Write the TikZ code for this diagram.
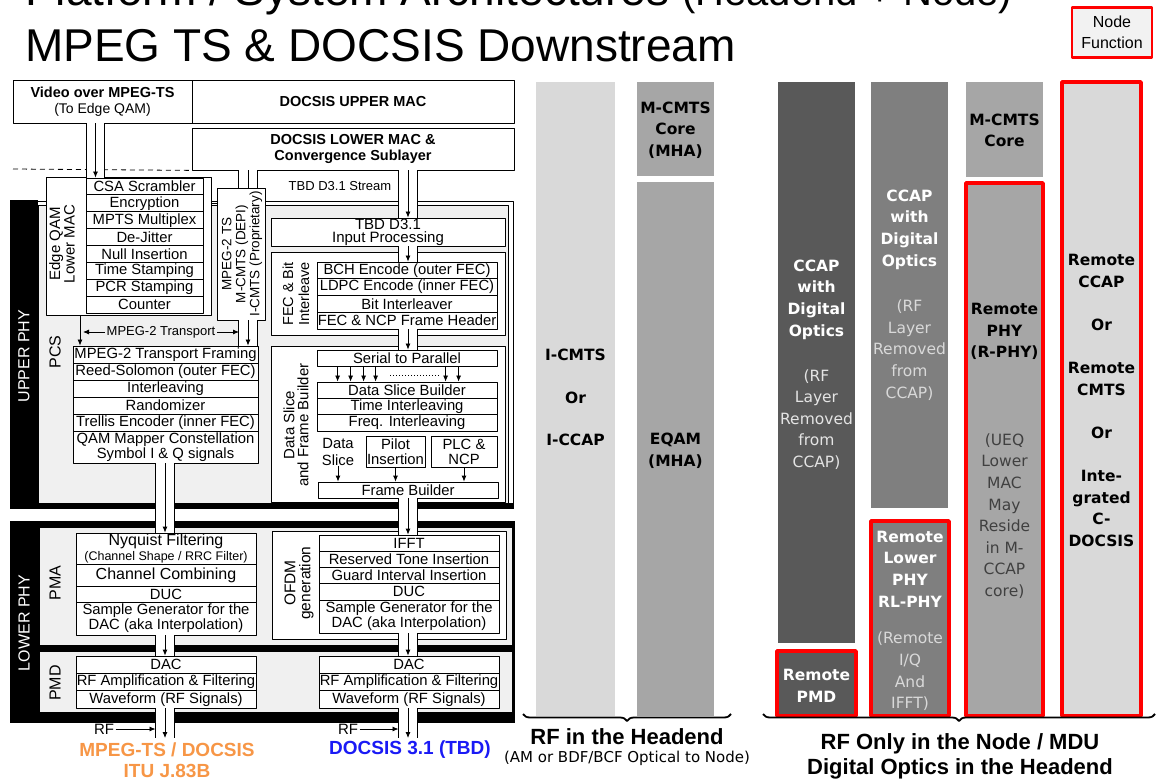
\documentclass[tikz,border=0pt]{standalone}
\usepackage{fontspec}
\setmainfont{Liberation Sans}
\newfontfamily\panelfont{DejaVu Sans}
\usetikzlibrary{arrows.meta,calc,decorations.pathreplacing}

\definecolor{phygray}{rgb}{0.94,0.94,0.94}
\definecolor{boxgray}{rgb}{0.95,0.95,0.95}
\definecolor{lightcol}{HTML}{D9D9D9}
\definecolor{midcol}{HTML}{A6A6A6}
\definecolor{darkcol}{HTML}{7F7F7F}
\definecolor{deepcol}{HTML}{595959}
\definecolor{notedark}{HTML}{404040}
\definecolor{notelight}{HTML}{E4E4E4}
\definecolor{nodered}{HTML}{FF0000}
\definecolor{mpegorange}{HTML}{F79646}
\definecolor{dblue}{HTML}{1A1AF5}

\begin{document}
\begin{tikzpicture}[x=1pt,y=-1pt,>={Latex[length=6pt,width=5pt]},line join=bevel,
  cell/.style={draw,fill=white,inner sep=0pt,line width=0.8pt,align=center,font=\fontsize{14.8}{15}\selectfont},
  frame/.style={draw,fill=white,inner sep=0pt,line width=0.8pt},
  tag/.style={rotate=90,inner sep=0pt,align=center,font=\fontsize{15.5}{15}\selectfont},
  phy/.style={rotate=90,inner sep=0pt,text=white,font=\fontsize{16}{16}\selectfont},
  pipe/.style={double=white,double distance=17.5pt,line width=0.8pt},
  flow/.style={->,line width=0.8pt},
  col/.style={inner sep=0pt,draw=none},
  remote/.style={draw=nodered,line width=3.4pt,inner sep=0pt},
  lbl/.style={inner sep=0pt,align=center,font=\panelfont\bfseries\fontsize{15.5}{21.6}\selectfont},
  note/.style={inner sep=0pt,align=center,font=\panelfont\fontsize{15.5}{21.6}\selectfont},
  brace/.style={decorate,decoration={brace,mirror,amplitude=7pt},line width=1.8pt},
  caption/.style={inner sep=0pt,align=center,font=\bfseries\fontsize{22}{25}\selectfont}]
\useasboundingbox[fill=white] (0,0) rectangle (1156,783);

%% Title
\node[anchor=base west,inner sep=0pt,font=\fontsize{46}{46}\selectfont] (title1) at (25,6)
  {Platform / System Architectures {\fontsize{40}{40}\selectfont(Headend + Node)}};
\node[anchor=base west,inner sep=0pt,font=\fontsize{46}{46}\selectfont] (title2) at (25,62)
  {MPEG TS \& DOCSIS Downstream};
\node[draw=nodered,line width=2.8pt,fill=boxgray,minimum width=80,minimum height=50,inner sep=0pt,
  align=center,font=\fontsize{16}{21}\selectfont] (nodefn) at (1112,32.5) {Node\\Function};

%% PHY frames
\fill (10,200) rectangle (38,509);
\fill (10,503) rectangle (514,509);
\draw[line width=0.8pt] (38,201) -- (513,201) -- (513,503);
\draw[line width=0.8pt,fill=phygray] (38,205) rectangle (508,503);
\node[phy] (upphy) at (24,356) {UPPER PHY};
\fill (10,521) rectangle (515,723);
\fill[phygray] (40,528) rectangle (512,645);
\fill[phygray] (40,652) rectangle (512,712);
\node[phy] (lowphy) at (24,623) {LOWER PHY};

%% MAC boxes
\node[frame,minimum width=179,minimum height=43,align=center,font=\fontsize{14.5}{16}\selectfont] (video) at (102.5,101.5)
  {\textbf{Video over MPEG-TS}\\{\fontsize{14}{16}\selectfont(To Edge QAM)}};
\node[frame,minimum width=322,minimum height=43,font=\bfseries\fontsize{14.5}{16}\selectfont] (uppermac) at (353,101.5) {DOCSIS UPPER MAC};
\node[frame,minimum width=322,minimum height=42,align=center,font=\bfseries\fontsize{14.5}{15.5}\selectfont] (lowermac) at (353,149)
  {DOCSIS LOWER MAC \&\\Convergence Sublayer};
\coordinate (dashL) at (13,169);
\draw[line width=0.8pt,dash pattern=on 5pt off 4pt] (dashL) -- (lowermac.south west);
\node[inner sep=0pt,font=\fontsize{13}{13}\selectfont] (tbdlbl) at (340,186) {TBD D3.1 Stream};

%% Edge QAM lower MAC
\node[frame,minimum width=165,minimum height=138] (edgeqam) at (128.5,246) {};
\node[tag,font=\fontsize{15}{13.5}\selectfont] (edgeqamt) at (62,244) {Edge QAM\\Lower MAC};
\foreach \txt [count=\i] in {CSA Scrambler,Encryption,MPTS Multiplex,De-Jitter,Null Insertion,Time Stamping,PCR Stamping,Counter}
  \node[cell,minimum width=117,minimum height=16.9] (eq\i) at (144.5,{178+(\i-0.5)*16.875}) {\txt};
\node[frame,minimum width=48,minimum height=132] (mpegts) at (241,254) {};
\node[tag,font=\fontsize{13.5}{14}\selectfont] (mpegtst) at (242,254) {MPEG-2 TS\\M-CMTS (DEPI)\\I-CMTS (Proprietary)};
\draw[line width=0.8pt] (edgeqam.east |- eq2) -- (mpegts.west |- eq2);

%% PCS
\node[tag,font=\fontsize{16}{16}\selectfont] (pcslbl) at (55,352) {PCS};
\foreach \txt [count=\i] in {MPEG-2 Transport Framing,Reed-Solomon (outer FEC),Interleaving,Randomizer,Trellis Encoder (inner FEC)}
  \node[cell,minimum width=185,minimum height=17] (pcs\i) at (165.5,{346+(\i-0.5)*17}) {\txt};
\node[cell,minimum width=185,minimum height=32] (qam) at (165.5,447) {QAM Mapper Constellation\\Symbol I \& Q signals};
\coordinate (ax) at (80,0);
% Edge: edgeqam -> pcs1
\draw[flow] (edgeqam.south -| ax) -- (pcs1.north -| ax);
\coordinate (trL) at (83,332);
\coordinate (trR) at (239,332);
\draw[<->,line width=0.8pt] (trL) -- (trR)
  node[midway,fill=phygray,inner sep=1.5pt,font=\fontsize{13}{13}\selectfont] (trlbl) {MPEG-2 Transport};

%% D3.1 upper PHY
\node[frame,minimum width=234,minimum height=28,align=center,font=\fontsize{15}{13}\selectfont] (tbd) at (388,232) {TBD D3.1\\Input Processing};
\node[frame,minimum width=234,minimum height=83] (fec) at (388,293.5) {};
\node[tag,font=\fontsize{14.5}{16}\selectfont] (fect) at (296,294) {FEC \& Bit\\Interleave};
\foreach \txt [count=\i] in {BCH Encode (outer FEC),LDPC Encode (inner FEC),Bit Interleaver,FEC \& NCP Frame Header}
  \node[cell,minimum width=180,minimum height=16.75] (fec\i) at (407,{262+(\i-0.5)*16.75}) {\txt};
\node[frame,minimum width=234,minimum height=156] (dsfb) at (388,424) {};
\node[tag,font=\fontsize{15}{14}\selectfont] (dsfbt) at (296,425) {Data Slice\\and Frame Builder};
\node[cell,minimum width=180,minimum height=16] (s2p) at (407,358) {Serial to Parallel};
\foreach \txt [count=\i] in {Data Slice Builder,Time Interleaving,Freq. Interleaving}
  \node[cell,minimum width=180,minimum height=16.4] (sl\i) at (407,{382+(\i-0.5)*16.33}) {\txt};
\foreach \d in {21,34,47,59,129,142}
  \draw[flow] ([xshift=\d]s2p.south west) -- ([xshift=\d]sl1.north west);
\draw[dotted,line width=1pt] (390,375) -- (440,375);
\node[inner sep=0pt,align=center,font=\fontsize{14.8}{16.5}\selectfont] (dslice) at (338,452) {Data\\Slice};
\node[cell,minimum width=59,minimum height=31] (pilot) at (395.5,451.5) {Pilot\\Insertion};
\node[cell,minimum width=66,minimum height=31] (plc) at (464,451.5) {PLC \&\\NCP};
\node[cell,minimum width=180,minimum height=16] (fb) at (408,490) {Frame Builder};
\draw[flow] (dslice.south) -- (fb.north -| dslice.south);
\draw[flow] (pilot.south) -- (fb.north -| pilot.south);
\draw[flow] (plc.south) -- (fb.north -| plc.south);

%% PMA
\node[tag,font=\fontsize{16}{16}\selectfont] (pmalbl) at (55,583) {PMA};
\node[cell,minimum width=180,minimum height=31] (pma1) at (166,548.5)
  {{\fontsize{16}{15}\selectfont Nyquist Filtering}\\{\fontsize{12.5}{13}\selectfont(Channel Shape / RRC Filter)}};
\node[cell,minimum width=180,minimum height=22,font=\fontsize{16}{16}\selectfont] (pma2) at (166,575) {Channel Combining};
\node[cell,minimum width=180,minimum height=16] (pma3) at (166,594) {DUC};
\node[cell,minimum width=180,minimum height=33] (pma4) at (166,618.5) {Sample Generator for the\\DAC (aka Interpolation)};
\node[frame,minimum width=234,minimum height=108] (ofdm) at (389,585) {};
\node[tag] (ofdmt) at (299,583) {OFDM\\generation};
\foreach \txt [count=\i] in {IFFT,Reserved Tone Insertion,Guard Interval Insertion,DUC}
  \node[cell,minimum width=180,minimum height=16.25] (ofdm\i) at (409,{535+(\i-0.5)*16.25}) {\txt};
\node[cell,minimum width=180,minimum height=33] (ofdm5) at (409,616.5) {Sample Generator for the\\DAC (aka Interpolation)};

%% PMD
\node[tag,font=\fontsize{16}{16}\selectfont] (pmdlbl) at (55,683) {PMD};
\foreach \txt [count=\i] in {DAC,RF Amplification \& Filtering,Waveform (RF Signals)} {
  \node[cell,minimum width=180,minimum height=17.3] (pmdL\i) at (166,{656+(\i-0.5)*17.33}) {\txt};
  \node[cell,minimum width=180,minimum height=17.3] (pmdR\i) at (409,{656+(\i-0.5)*17.33}) {\txt};
}

%% Pipes
\coordinate (pA) at (95.5,0);
\coordinate (pB) at (248,0);
\coordinate (pC) at (408,0);
\coordinate (pD) at (165,0);
\coordinate (outL) at (165,738);
\coordinate (outR) at (408,738);
\draw[pipe] (lowermac.south -| pB) -- (mpegts.north -| pB);
\draw[line width=0.8pt] (lowermac.south -| pB) -- (mpegts.north -| pB);
\foreach \src/\dst/\px in {video.south/eq1.north/pA, mpegts.south/pcs1.north/pB,
    lowermac.south/tbd.north/pC, tbd.south/fec1.north/pC, fec4.south/s2p.north/pC,
    qam.south/pma1.north/pD, fb.south/ofdm1.north/pC, pma4.south/pmdL1.north/pD,
    ofdm5.south/pmdR1.north/pC, pmdL3.south/outL/pD, pmdR3.south/outR/pC} {
  \draw[pipe] (\src -| \px) -- (\dst -| \px);
  \draw[flow] (\src -| \px) -- (\dst -| \px);
}
\node[inner sep=1.5pt,font=\fontsize{15}{15}\selectfont] (rfL) at (104,729) {RF};
\draw[flow] (rfL.east) -- ($(rfL.east -| pD)+(-9.5,0)$);
\node[inner sep=1.5pt,font=\fontsize{15}{15}\selectfont] (rfR) at (348,729) {RF};
\draw[flow] (rfR.east) -- ($(rfR.east -| pC)+(-9.5,0)$);
\node[inner sep=0pt,align=center,text=mpegorange,font=\bfseries\fontsize{19}{21}\selectfont] (outLt) at (167,760.5)
  {MPEG-TS / DOCSIS\\ITU J.83B};
\node[inner sep=0pt,text=dblue,font=\bfseries\fontsize{19}{21}\selectfont] (outRt) at (410,750) {DOCSIS 3.1 (TBD)};

%% RF in the headend
\node[col,fill=lightcol,minimum width=79,minimum height=634] (icmts) at (575.5,399) {};
\node[col,fill=midcol,minimum width=77,minimum height=94] (mcoreA) at (675.5,129) {};
\node[col,fill=midcol,minimum width=77,minimum height=534] (eqam) at (675.5,449) {};
\node[lbl] (icmtst) at (575.5,397.5) {I-CMTS\\[21.25pt]Or\\[21.25pt]I-CCAP};
\node[lbl] (mcoreAt) at (675.5,130) {M-CMTS\\Core\\(MHA)};
\node[lbl] (eqamt) at (675.5,451) {EQAM\\(MHA)};
\draw[brace] (523,714) -- (731,714);
\node[caption] (cap1) at (627,737) {RF in the Headend};
\node[inner sep=0pt,font=\panelfont\fontsize{15}{18}\selectfont] (cap1b) at (627,758) {(AM or BDF/BCF Optical to Node)};

%% RF only in the node
\node[col,fill=deepcol,minimum width=77,minimum height=561] (ccapA) at (816.5,362.5) {};
\node[remote,fill=deepcol,minimum width=79,minimum height=65] (rpmd) at (816.5,683.5) {};
\node[col,fill=darkcol,minimum width=77,minimum height=426] (ccapB) at (909.5,295) {};
\node[remote,fill=darkcol,minimum width=78,minimum height=195] (rlphy) at (910,618.5) {};
\node[col,fill=midcol,minimum width=77,minimum height=95] (mcoreB) at (1004.5,129.5) {};
\node[remote,fill=midcol,minimum width=77,minimum height=533] (rphy) at (1004.5,449.5) {};
\node[remote,fill=lightcol,minimum width=79,minimum height=634] (rccap) at (1101.5,399) {};
\node[lbl,text=white] (ccapAt) at (816.5,299.5) {CCAP\\with\\Digital\\Optics};
\node[note,text=notelight] (ccapAn) at (816.5,419.5) {(RF\\Layer\\Removed\\from\\CCAP)};
\node[lbl,text=white] (rpmdt) at (816.5,686) {Remote\\PMD};
\node[lbl,text=white] (ccapBt) at (909.5,229.5) {CCAP\\with\\Digital\\Optics};
\node[note,text=lightcol] (ccapBn) at (909.5,350) {(RF\\Layer\\Removed\\from\\CCAP)};
\node[lbl,text=white] (rlphyt) at (910,569) {Remote\\Lower\\PHY\\RL-PHY};
\node[note,text=lightcol] (rlphyn) at (910,671.5) {(Remote\\I/Q\\And\\IFFT)};
\node[lbl] (mcoreBt) at (1004.5,130.5) {M-CMTS\\Core};
\node[lbl] (rphyt) at (1004.5,331.5) {Remote\\PHY\\(R-PHY)};
\node[note,text=notedark] (rphyn) at (1004.5,516) {(UEQ\\Lower\\MAC\\May\\Reside\\in M-\\CCAP\\core)};
\node[lbl] (rccapt) at (1101.5,400.4)
  {Remote\\CCAP\\[21.6pt]Or\\[21.6pt]Remote\\CMTS\\[21.6pt]Or\\[21.6pt]Inte-\\grated\\C-\\DOCSIS};
\draw[brace] (763,714) -- (1155,714);
\node[caption] (cap2) at (960,756) {RF Only in the Node / MDU\\Digital Optics in the Headend};
\end{tikzpicture}
\end{document}
